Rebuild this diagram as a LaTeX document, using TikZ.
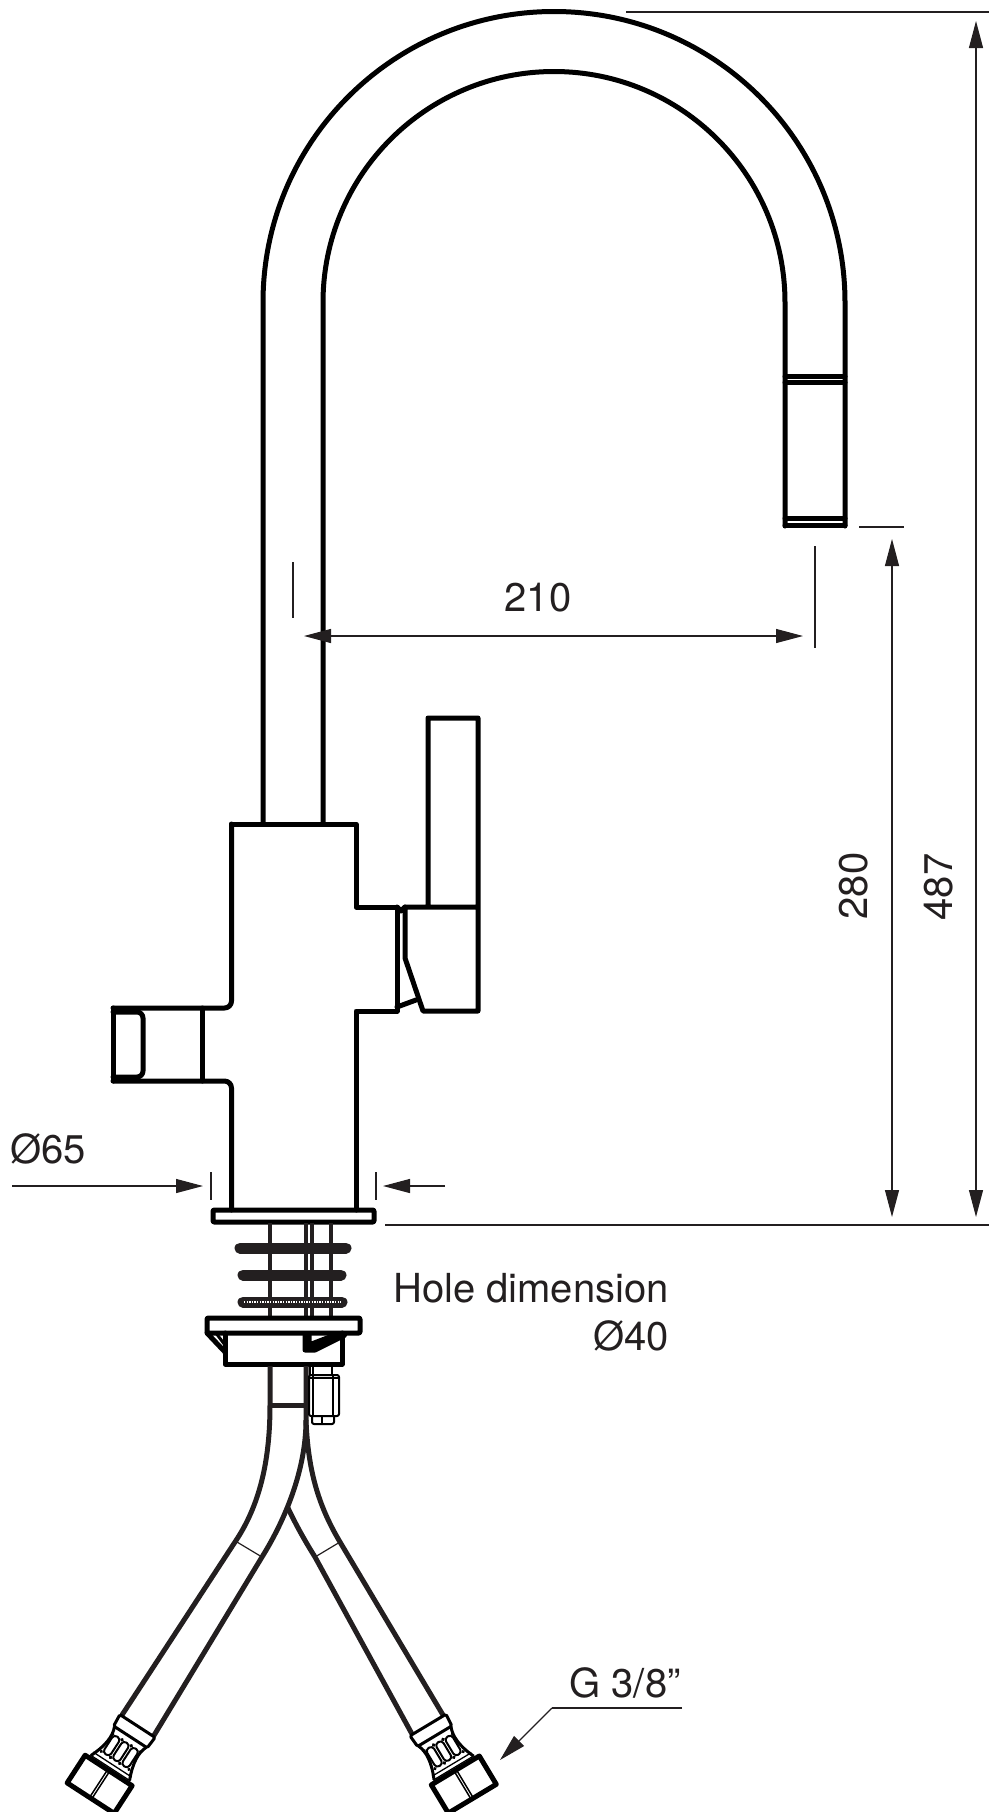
\documentclass[tikz,border=0pt]{standalone}
\usepackage{fontspec}
\setmainfont{TeX Gyre Heros}
\usepackage{tikz}
\usetikzlibrary{arrows.meta}
\definecolor{dimink}{HTML}{231F20}
\tikzset{
    mainline/.style={line width=5pt,line cap=round,line join=round},
    thinline/.style={line width=2pt,line join=round},
    hoseline/.style={line width=5pt,dimink},
    dimline/.style={line width=1.2pt,dimink},
    dimarrow/.style={dimline,-{Triangle[length=27pt,width=14pt]}},
    dimboth/.style={dimline,{Triangle[length=27pt,width=14pt]}-{Triangle[length=27pt,width=14pt]}},
    dimtext/.style={font=\fontsize{40}{46}\selectfont,text=dimink,inner sep=0pt},
    fitting/.pic={
        \draw[line width=3pt,line join=round,rounded corners=1.5] (-21,0) -- (21,0) -- (20,13) -- (-20,13) -- cycle;
        \draw[line width=3pt] (-19,13) .. controls (-15,22) and (-16,34) .. (-23,50);
        \draw[line width=3pt] (19,13) .. controls (15,22) and (16,34) .. (23,50);
        \foreach \u in {-11,0,11}{
            \draw[line width=2pt,rounded corners=3.5] (\u-4,20) rectangle (\u+4,41);
            \fill (\u-5.5,20) circle (1.8);
            \fill (\u+5.5,20) circle (1.8);
            \fill (\u-5.5,41) circle (1.8);
            \fill (\u+5.5,41) circle (1.8);
        }
        \draw[line width=1.3pt] (-23,46) -- (23,46);
        \draw[line width=1.3pt] (-24,50) -- (24,50);
        \draw[line width=5pt,line join=round] (-28,53) rectangle (28,86);
        \draw[line width=1.5pt] (-1.3,53) -- (-1.3,86);
        \draw[line width=1.5pt] (1.3,53) -- (1.3,86);
    }
}
\begin{document}
\begin{tikzpicture}[x=1pt,y=-1pt]
    \useasboundingbox (0,0) rectangle (989,1812);
    \draw[mainline](263,824)--(263,302.5) arc[start angle=180,end angle=360,radius=291]--(845,526);
    \draw[mainline](323,824)--(323,302.5) arc[start angle=180,end angle=360,radius=231]--(785,526);
    \draw[mainline](785,376.5)--(845,376.5);
    \draw[mainline](785,382.5)--(845,382.5);
    \draw[mainline](785,518)--(845,518);
    \draw[mainline](785,525.5)--(845,525.5);
    \draw[mainline](231.5,824)--(356,824)--(356,907)--(397,907)--(397,1011)--(356,1011)--(356,1210);
    \draw[mainline,rounded corners=7](231.5,824)--(231.5,1008)--(113,1008);
    \draw[mainline,rounded corners=7](113,1081)--(231.5,1081)--(231.5,1210);
    \draw[mainline](113,1008)--(113,1081);
    \draw[mainline](202,1008)--(202,1081);
    \draw[mainline,rounded corners=6](113,1012)--(143,1012)--(143,1077)--(113,1077);
    \draw[mainline](428,907)--(428,718)--(478,718)--(478,1011)--(423,1011)--(405,958)--(405,907)--(478,907);
    \draw[mainline](397,1007)--(416,1000);
    \draw[mainline](397,907)--(401,911)--(405,907);
    \draw[mainline,rounded corners=1](213,1210) rectangle (374,1222);
    \foreach \s in {270,306,312,331}{
        \draw[line width=4.5pt,dimink](\s,1223)--(\s,1318);
    }
    \draw[line width=11pt,line cap=round,dimink](240,1248)--(346,1248);
    \draw[line width=11pt,line cap=round,dimink](243,1275)--(341,1275);
    \draw[line width=11pt,line cap=round,dimink](243,1302)--(342,1302);
    \draw[white,line width=1.6pt,dash pattern=on 1.4pt off 1.2pt](244,1302)--(341,1302);
    \draw[mainline,rounded corners=1](207,1318) rectangle (360,1333);
    \draw[mainline](225,1333)--(225,1364)--(342,1364)--(342,1333);
    \draw[mainline](207,1333)--(225,1352);
    \draw[mainline,line width=3pt](216,1333)--(225,1345);
    \draw[mainline,fill=black](305,1335)--(305,1350)--(315,1350)--(345,1335)--(335,1335)--(309,1345)--(309,1335)--cycle;
    \draw[hoseline](270,1366)--(270,1405) .. controls (270,1460) and (260,1505) .. (235,1542)--(122,1715);
    \draw[hoseline](306,1366)--(306,1420) .. controls (306,1470) and (285,1520) .. (262,1557)--(153,1737);
    \draw[hoseline](306,1420) .. controls (308,1470) and (318,1505) .. (340,1542)--(443,1715);
    \draw[hoseline](288,1508) .. controls (296,1525) and (305,1541) .. (315,1557)--(412,1734);
    \draw[hoseline](270,1405)--(306,1405);
    \draw[line width=1.2pt,dimink](237,1542)--(262,1557);
    \draw[line width=1.2pt,dimink](340,1542)--(315,1557);
    \draw[thinline](310,1366)--(310,1375);
    \draw[thinline](313,1366)--(313,1375);
    \draw[thinline](332,1366)--(332,1375);
    \draw[thinline,rounded corners=2](309,1375) rectangle (339,1416);
    \draw[thinline](313,1375)--(313,1416);
    \draw[thinline](333,1375)--(333,1416);
    \draw[thinline](310,1378)--(338,1378);
    \draw[thinline,rounded corners=2](312,1416)--(312,1424)--(334,1424)--(334,1416);
    \draw[thinline](322,1417)--(322,1424);
    \pic[rotate=-33] (fitleft) at (137.5,1726) {fitting};
    \pic[rotate=31] (fitright) at (428,1725) {fitting};
    \draw[dimline](626,12)--(989,12);
    \draw[dimline](385,1225)--(989,1225);
    \draw[dimline](859,527)--(904,527);
    \draw[dimboth](976,21)--(976,1217);
    \draw[dimboth](892,539)--(892,1217);
    \draw[dimline](293,562)--(293,618);
    \draw[dimline](815,546)--(815,648);
    \draw[dimboth](304,636)--(803,636);
    \draw[dimline](211,1172)--(211,1200);
    \draw[dimline](376,1172)--(376,1200);
    \draw[dimarrow](12,1186)--(203,1186);
    \draw[dimarrow](445,1186)--(383,1186);
    \draw[dimline](682,1708)--(552,1708);
    \draw[dimarrow](552,1708)--(500,1760);
    \node[dimtext] (len210) at (538,598){210};
    \node[dimtext,rotate=90] (len280) at (854,886){280};
    \node[dimtext,rotate=90] (len487) at (939,887){487};
    \node[dimtext] (dia65) at (48,1149){Ø65};
    \node[dimtext,anchor=base east] (holename) at (669,1302){Hole dimension};
    \node[dimtext,anchor=base east] (holedia) at (669,1350){Ø40};
    \node[dimtext] (gsize) at (625,1683){G 3/8”};
\end{tikzpicture}
\end{document}
